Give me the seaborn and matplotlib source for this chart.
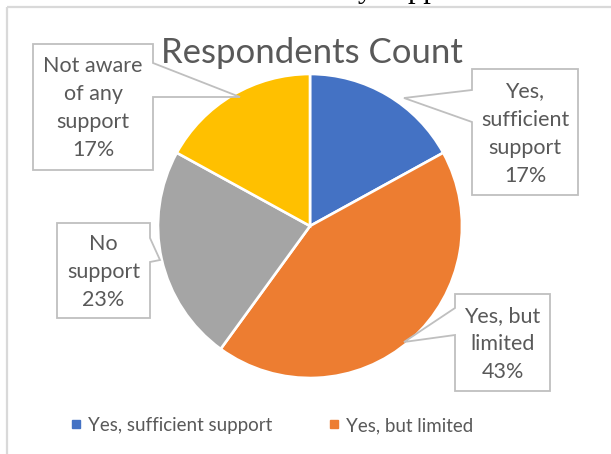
import matplotlib
matplotlib.use("Agg")
import matplotlib.pyplot as plt
from matplotlib.patches import Polygon
from matplotlib.lines import Line2D
import seaborn as sns

# Survey answers and their shares of respondents (percent)
categories = ["Yes, sufficient support", "Yes, but limited", "No support", "Not aware of any support"]
shares = [17, 43, 23, 17]
label_texts = ["Yes,\nsufficient\nsupport", "Yes, but\nlimited", "No\nsupport", "Not aware\nof any\nsupport"]
colors = ["#4472C4", "#ED7D31", "#A5A5A5", "#FFC000"]
title = "Respondents Count"

sns.set_theme(style="white")
plt.rcParams["font.family"] = ["Lato", "DejaVu Sans"]
TEXT = "#595959"

W, H = 611, 454
fig = plt.figure(figsize=(W / 100, H / 100), dpi=100)
ax = fig.add_axes([0, 0, 1, 1])


def Y(y):
    """Convert a top-based pixel row into the axes' bottom-based units."""
    return H - y


# pie
cx, cy, R = 310, 226, 152
palette = sns.color_palette(colors)
wedges, _ = ax.pie(shares, colors=palette, startangle=90, counterclock=False,
                   center=(cx, Y(cy)), radius=R, frame=True,
                   wedgeprops=dict(edgecolor="white", linewidth=1.9))
ax.set_xlim(0, W)
ax.set_ylim(0, H)
ax.set_aspect("equal")
ax.axis("off")

# chart frame (only its left and top edges fall inside the figure)
ax.plot([7, 7], [Y(7), -20], color="#d9d9d9", lw=1.6, solid_capstyle="butt")
ax.plot([7, W + 20], [Y(7), Y(7)], color="#d9d9d9", lw=1.6, solid_capstyle="butt")

# tail of the surrounding document text
ax.text(358, Y(-2.5), "y support", family=["Liberation Serif"], fontsize=22,
        color="black", ha="left", va="baseline")

ax.text(312, Y(63), title, fontsize=25, color=TEXT, ha="center", va="baseline")

# callout boxes: (x0, y0, x1, y1), side of the pointer, pointer base, pointer tip
callouts = [
    ((472, 69, 578, 195), "left", (90, 122), (404, 98)),
    ((455, 294, 550, 391), "left", (308, 335), (404, 342)),
    ((57, 223, 150, 318), "right", (238, 262), (160, 260)),
    ((33, 44, 153, 170), "right", (63, 97), (240, 97)),
]

for (box, side, base, tip), txt, val in zip(callouts, label_texts, shares):
    x0, y0, x1, y1 = box
    b0, b1 = base
    tx, ty = tip
    if side == "right":
        pts = [(x0, y0), (x1, y0), (x1, b0), (tx, ty), (x1, b1), (x1, y1), (x0, y1)]
    else:
        pts = [(x0, y0), (x1, y0), (x1, y1), (x0, y1), (x0, b1), (tx, ty), (x0, b0)]
    pts = [(px, Y(py)) for px, py in pts]
    ax.add_patch(Polygon(pts, closed=True, facecolor="white", edgecolor="#bfbfbf",
                         lw=1.3, joinstyle="miter", zorder=3))
    ax.text((x0 + x1) / 2, Y((y0 + y1) / 2 + 1.5), f"{txt}\n{val}%", fontsize=15.5,
            color=TEXT, ha="center", va="center", linespacing=1.5, zorder=4)

# legend: two entries per row; the second row lies below the figure's edge
handles = [Line2D([], [], marker="s", linestyle="none", markersize=5.8,
                  markerfacecolor=c, markeredgecolor=c) for c in colors]
order = [0, 2, 1, 3]
leg = ax.legend([handles[i] for i in order], [categories[i] for i in order],
                ncol=2, loc="upper left", bbox_to_anchor=(70 / W, 1 - 417 / H),
                bbox_transform=fig.transFigure, frameon=False, fontsize=13.5,
                handlelength=0.6, handletextpad=0.35, columnspacing=3.0,
                borderpad=0, borderaxespad=0, labelspacing=2.6)
for t in leg.get_texts():
    t.set_color(TEXT)

fig.savefig("out.png", dpi=100)
